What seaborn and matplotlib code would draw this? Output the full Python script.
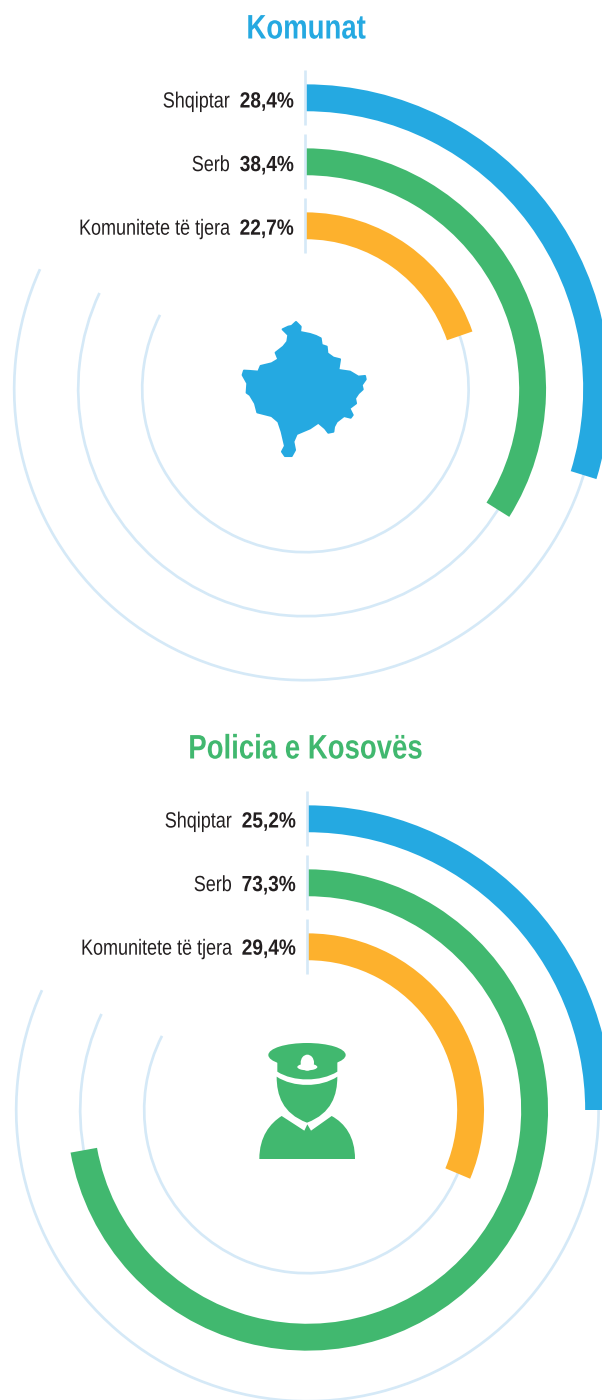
"""Radial bar figure: ethnic composition of staff in municipalities and police."""

from __future__ import annotations

import matplotlib.pyplot as plt
import numpy as np
import pandas as pd
import seaborn as sns
from matplotlib.patches import Ellipse, PathPatch, Polygon
from matplotlib.path import Path
from matplotlib.patheffects import AbstractPathEffect
from matplotlib.transforms import Affine2D

WIDTH, HEIGHT = 602, 1400
BLUE, GREEN, ORANGE = "#25A9E1", "#41B86F", "#FDB12D"
TRACK = "#D5E9F7"
TEXT = "#231F20"
FONT = ["Liberation Sans", "DejaVu Sans"]

categories = ["Shqiptar", "Serb", "Komunitete të tjera"]
komunat_labels = ["28,4%", "38,4%", "22,7%"]
komunat_arc_deg = [107.2, 122.1, 71.0]
policia_labels = ["25,2%", "73,3%", "29,4%"]
policia_arc_deg = [90.0, 259.8, 112.9]
track_arc_deg = [294.3, 295.0, 297.0]

KOSOVO_OUTLINE = [
    (198, 36), (212, 50), (210, 66), (240, 72), (258, 78), (272, 85), (275, 105),
    (290, 110), (292, 130), (310, 143), (330, 148), (325, 180), (360, 185),
    (385, 200), (405, 198), (407, 208), (395, 225), (398, 238), (385, 250),
    (375, 265), (378, 280), (358, 295), (368, 315), (362, 323), (342, 318),
    (320, 335), (312, 350), (310, 365), (295, 368), (285, 355), (265, 338),
    (240, 355), (200, 372), (190, 395), (195, 420), (185, 438), (165, 438),
    (156, 425), (165, 408), (155, 365), (145, 335), (125, 318), (82, 307),
    (75, 280), (60, 255), (50, 248), (52, 220), (38, 195), (42, 182), (60, 183),
    (85, 185), (92, 168), (125, 160), (145, 148), (137, 128), (160, 110),
    (172, 95), (175, 75), (158, 58), (175, 50), (185, 48),
]


class _Condense(AbstractPathEffect):
    """Squeeze drawn glyphs horizontally around x0, no condensed font is installed."""

    def __init__(self, x0, sx):
        super().__init__()
        self.squeeze = Affine2D().translate(-x0, 0).scale(sx, 1).translate(x0, 0)

    def draw_path(self, renderer, gc, tpath, affine, rgbFace=None):
        renderer.draw_path(gc, tpath, affine + self.squeeze, rgbFace)


def _radial_panel(fig, cx, cy, arc_deg):
    # one category step is 64 px, the first track sits 4.55 steps from the centre
    half = (4.55 + 1.0) * 64
    ax = fig.add_axes(
        [(cx - half) / WIDTH, 1 - (cy + half) / HEIGHT, 2 * half / WIDTH, 2 * half / HEIGHT],
        projection="polar",
    )
    ax.set_theta_zero_location("N")
    ax.set_theta_direction(-1)
    palette = dict(zip(categories, [BLUE, GREEN, ORANGE]))
    tracks = pd.DataFrame({"cat": categories, "arc": np.radians(track_arc_deg)})
    bars = pd.DataFrame({"cat": categories, "arc": np.radians(arc_deg)})
    sns.barplot(data=tracks, x="arc", y="cat", orient="y", color=TRACK, saturation=1,
                width=0.042, linewidth=0, ax=ax)
    sns.barplot(data=bars, x="arc", y="cat", hue="cat", palette=palette, orient="y",
                saturation=1, width=0.42, linewidth=0, legend=False, ax=ax)
    for i in range(len(categories)):
        ax.plot([0, 0], [i - 0.43, i + 0.43], color=TRACK, lw=1.9, solid_capstyle="butt")
    ax.set_xlim(0, 2 * np.pi)
    ax.set_ylim(4.55, -1.0)
    ax.axis("off")
    return ax


def _text(ov, x, y, s, color, size, sx, ha, weight="normal"):
    x0 = ov.transData.transform((x, y))[0]
    ov.text(x, y, s, color=color, family=FONT, weight=weight, fontsize=size, ha=ha,
            va="baseline", path_effects=[_Condense(x0, sx)])


def _labels(ov, cx, title_x, top, title, color, values):
    _text(ov, title_x, top, title, color, 24.5, 0.81, "center", weight="bold")
    for i, (cat, val) in enumerate(zip(categories, values)):
        y = top + 69 + i * 63.6
        _text(ov, cx - 11, y, val, TEXT, 15.8, 0.87, "right", weight="bold")
        _text(ov, cx - 75.2, y, cat, TEXT, 15.8, 0.82, "right")


def _kosovo(ov):
    pts = [(230 + x / 3, 310 + y / 3) for x, y in KOSOVO_OUTLINE]
    ov.add_patch(Polygon(pts, closed=True, facecolor=BLUE, edgecolor=BLUE, lw=1.5,
                         joinstyle="round"))


def _officer(ov):
    def z(x, y):
        return (250 + x / 3, 1030 + y / 3)

    body = [z(28, 387), z(28, 320), z(60, 280), z(95, 258), z(163, 302), z(172, 283),
            z(183, 302), z(245, 258), z(285, 280), z(315, 320), z(315, 387), z(28, 387)]
    codes = [Path.MOVETO, Path.CURVE4, Path.CURVE4, Path.CURVE4, Path.LINETO, Path.LINETO,
             Path.LINETO, Path.LINETO, Path.CURVE4, Path.CURVE4, Path.CURVE4, Path.CLOSEPOLY]
    ov.add_patch(PathPatch(Path(body, codes), facecolor=GREEN, edgecolor="none"))
    face = [z(80, 140), z(130, 173), z(212, 173), z(262, 140), z(262, 195), z(245, 250),
            z(171, 278), z(97, 250), z(80, 195), z(80, 140)]
    fcodes = [Path.MOVETO] + [Path.CURVE4] * 9
    ov.add_patch(PathPatch(Path(face, fcodes), facecolor=GREEN, edgecolor="none"))
    ov.add_patch(Ellipse(z(171, 75), 232 / 3, 72 / 3, facecolor=GREEN, edgecolor="none"))
    brim = [z(82, 90), z(82, 125), z(130, 156), z(212, 156), z(262, 125), z(262, 90), z(82, 90)]
    bcodes = [Path.MOVETO, Path.LINETO, Path.CURVE4, Path.CURVE4, Path.CURVE4, Path.LINETO,
              Path.CLOSEPOLY]
    ov.add_patch(PathPatch(Path(brim, bcodes), facecolor=GREEN, edgecolor="none"))
    ov.add_patch(Ellipse(z(172, 98), 40 / 3, 48 / 3, facecolor="white", edgecolor="none"))
    ov.add_patch(Ellipse(z(172, 111), 60 / 3, 20 / 3, facecolor="white", edgecolor="none"))


def main() -> None:
    sns.set_theme(style="white")
    fig = plt.figure(figsize=(WIDTH / 100, HEIGHT / 100), dpi=100, facecolor="white")
    _radial_panel(fig, 305.4, 389, komunat_arc_deg)
    _radial_panel(fig, 307.4, 1110, policia_arc_deg)

    ov = fig.add_axes([0, 0, 1, 1], facecolor="none")
    ov.set_xlim(0, WIDTH)
    ov.set_ylim(HEIGHT, 0)
    ov.axis("off")
    _labels(ov, 305, 306, 38.5, "Komunat", BLUE, komunat_labels)
    _labels(ov, 307, 305.5, 758.5, "Policia e Kosovës", GREEN, policia_labels)
    _kosovo(ov)
    _officer(ov)
    fig.savefig("out.png", dpi=100)
    plt.close(fig)


if __name__ == "__main__":
    main()
